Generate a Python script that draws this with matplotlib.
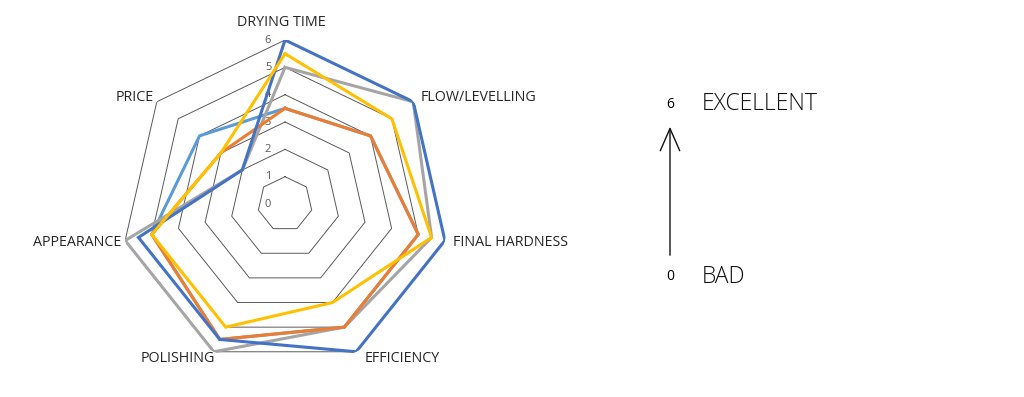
import numpy as np
import matplotlib
matplotlib.use('Agg')
import matplotlib.pyplot as plt

categories = ['DRYING TIME', 'FLOW/LEVELLING', 'FINAL HARDNESS', 'EFFICIENCY',
              'POLISHING', 'APPEARANCE', 'PRICE']
ring_values = [0, 1, 2, 3, 4, 5, 6]

# series values, one per category (clockwise from top)
light_blue = [3.5, 4, 5, 5, 5.5, 5, 4]
gray = [5, 6, 5.5, 5, 6, 6, 2]
orange = [3.5, 4, 5, 5, 5.5, 5, 3]
blue = [6, 6, 6, 6, 5.5, 5.5, 2]
yellow = [5.5, 5, 5.5, 4, 5, 5, 3]

series = [
    (light_blue, '#5B9BD5'),
    (gray, '#A5A5A5'),
    (orange, '#ED7D31'),
    (blue, '#4472C4'),
    (yellow, '#FFC000'),
]

# label offsets in pixels from the outer vertex, and alignment
label_pos = [(-4, 18, 'center'), (7, 4, 'left'), (8, -2, 'left'), (8, -7, 'left'),
             (1, -7, 'right'), (-4, -2, 'right'), (-3, 4, 'right')]

plt.rcParams['font.family'] = ['Open Sans', 'DejaVu Sans']

fig = plt.figure(figsize=(10.24, 3.97), dpi=100)
ax = fig.add_axes([0.1182, 0.0730, 0.3203, 0.8262], projection='polar')
ax.set_theta_offset(np.pi / 2)
ax.set_theta_direction(-1)
ax.set_ylim(0, 6)
ax.set_axis_off()

n = len(categories)
theta = np.arange(n) * 2 * np.pi / n
theta_c = np.append(theta, theta[0])

# heptagon gridlines
for v in ring_values[1:]:
    ax.plot(theta_c, [v] * (n + 1), color='#595959', lw=0.7, zorder=1)

# ring value labels
for v in ring_values:
    ax.annotate(str(v), xy=(0, v), xytext=(-17, 0), textcoords='offset pixels',
                ha='center', va='center', fontsize=8, color='#595959')

for i, (vals, col) in enumerate(series):
    ax.plot(theta_c, vals + vals[:1], color=col, lw=2.2, zorder=3 + i,
            solid_joinstyle='miter')

for t, name, (dx, dy, ha) in zip(theta, categories, label_pos):
    ax.annotate(name, xy=(t, 6), xytext=(dx, dy), textcoords='offset pixels',
                ha=ha, va='center', fontsize=10.3, color='#262626')

# scale note on the right
H = 397
fig.text(670, H - 104, '6', transform=None, ha='center', va='center', fontsize=10)
fig.text(670, H - 277, '0', transform=None, ha='center', va='center', fontsize=10)
fig.text(702, H - 104, 'EXCELLENT', transform=None, ha='left', va='center',
         fontsize=16.5, fontweight='light', color='#111111')
fig.text(702, H - 277, 'BAD', transform=None, ha='left', va='center',
         fontsize=16.5, fontweight='light', color='#111111')
fig.patches.append(matplotlib.patches.FancyArrowPatch(
    (670, H - 258), (670, H - 124), transform=None,
    arrowstyle='->,head_length=16,head_width=7',
    color='#111111', lw=1.0, mutation_scale=1))

fig.savefig('out.png', dpi=100)
